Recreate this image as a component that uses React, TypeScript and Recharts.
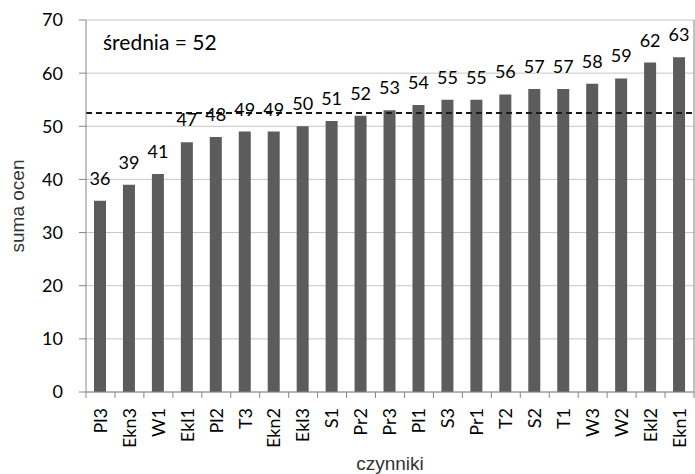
import { Bar, BarChart, CartesianGrid, LabelList, ReferenceLine, XAxis, YAxis } from 'recharts';

const categories = ['Pl3', 'Ekn3', 'W1', 'Ekl1', 'Pl2', 'T3', 'Ekn2', 'Ekl3', 'S1', 'Pr2', 'Pr3', 'Pl1', 'S3', 'Pr1', 'T2', 'S2', 'T1', 'W3', 'W2', 'Ekl2', 'Ekn1'];
const sums = [36, 39, 41, 47, 48, 49, 49, 50, 51, 52, 53, 54, 55, 55, 56, 57, 57, 58, 59, 62, 63];
const yTicks = [0, 10, 20, 30, 40, 50, 60, 70];
const meanLine = 52.5;
const meanText = 'średnia = 52';

const data = categories.map((name, i) => ({ name, value: sums[i] }));

const W = 695;
const H = 474;
const Y_AXIS_W = 86;
const RIGHT_W = 1;
const TICK_FONT = 'Lato, "Open Sans", sans-serif';
const TITLE_FONT = '"Liberation Sans", Arial, sans-serif';
const AXIS_GRAY = '#868686';
const TITLE_COLOR = '#333333';

const half = (W - Y_AXIS_W - RIGHT_W) / categories.length / 2;

const XTick = (props: any) => {
  const { x, y, payload, index } = props;
  const axisY = y - 16;
  return (
    <g>
      <line x1={x - half} x2={x - half} y1={axisY} y2={axisY + 6} stroke={AXIS_GRAY} />
      {index === categories.length - 1 && (
        <line x1={x + half} x2={x + half} y1={axisY} y2={axisY + 6} stroke={AXIS_GRAY} />
      )}
      <text
        x={x}
        y={y}
        dy="0.35em"
        transform={`rotate(-90, ${x}, ${y})`}
        textAnchor="end"
        fontSize={18}
        fontFamily={TICK_FONT}
        fill="#000"
      >
        {payload.value}
      </text>
    </g>
  );
};

export default function App() {
  return (
    <div style={{ width: W, height: H }}>
      <style>{'body{margin:0}'}</style>
      <BarChart width={W} height={H} data={data} margin={{ top: 20, right: 0, bottom: 0, left: 0 }}>
        <CartesianGrid vertical={false} stroke="#c6c6c6" />
        <XAxis
          dataKey="name"
          height={82}
          interval={0}
          tickLine={false}
          tickSize={6}
          tickMargin={10}
          tick={<XTick />}
          axisLine={{ stroke: AXIS_GRAY }}
          label={{ value: 'czynniki', position: 'insideBottom', offset: 4, fill: TITLE_COLOR, style: { fontSize: 19, fontFamily: TITLE_FONT, fill: TITLE_COLOR } }}
        />
        <YAxis
          width={Y_AXIS_W}
          domain={[0, 70]}
          ticks={yTicks}
          interval={0}
          tickSize={7}
          tickMargin={16}
          tickLine={{ stroke: AXIS_GRAY }}
          axisLine={{ stroke: AXIS_GRAY }}
          tick={{ fontSize: 18, fontFamily: TICK_FONT, fill: '#000' }}
          label={{ value: 'suma ocen', angle: -90, position: 'insideLeft', offset: 17, fill: TITLE_COLOR, style: { textAnchor: 'middle', fontSize: 19, fontFamily: TITLE_FONT, fill: TITLE_COLOR } }}
        />
        <YAxis
          yAxisId="r"
          orientation="right"
          width={RIGHT_W}
          domain={[0, 70]}
          tick={false}
          tickLine={false}
          axisLine={{ stroke: AXIS_GRAY }}
        />
        <Bar dataKey="value" fill="#5c5c5c" barSize={12} isAnimationActive={false}>
          <LabelList dataKey="value" position="top" offset={16} fontSize={18} fontFamily={TICK_FONT} fill="#000" />
        </Bar>
        <ReferenceLine y={meanLine} stroke="#1a1a1a" strokeWidth={2} strokeDasharray="6 4" />
        <text x={103} y={50} fontSize={21} fontFamily={TICK_FONT} fill="#000">
          {meanText}
        </text>
      </BarChart>
    </div>
  );
}
